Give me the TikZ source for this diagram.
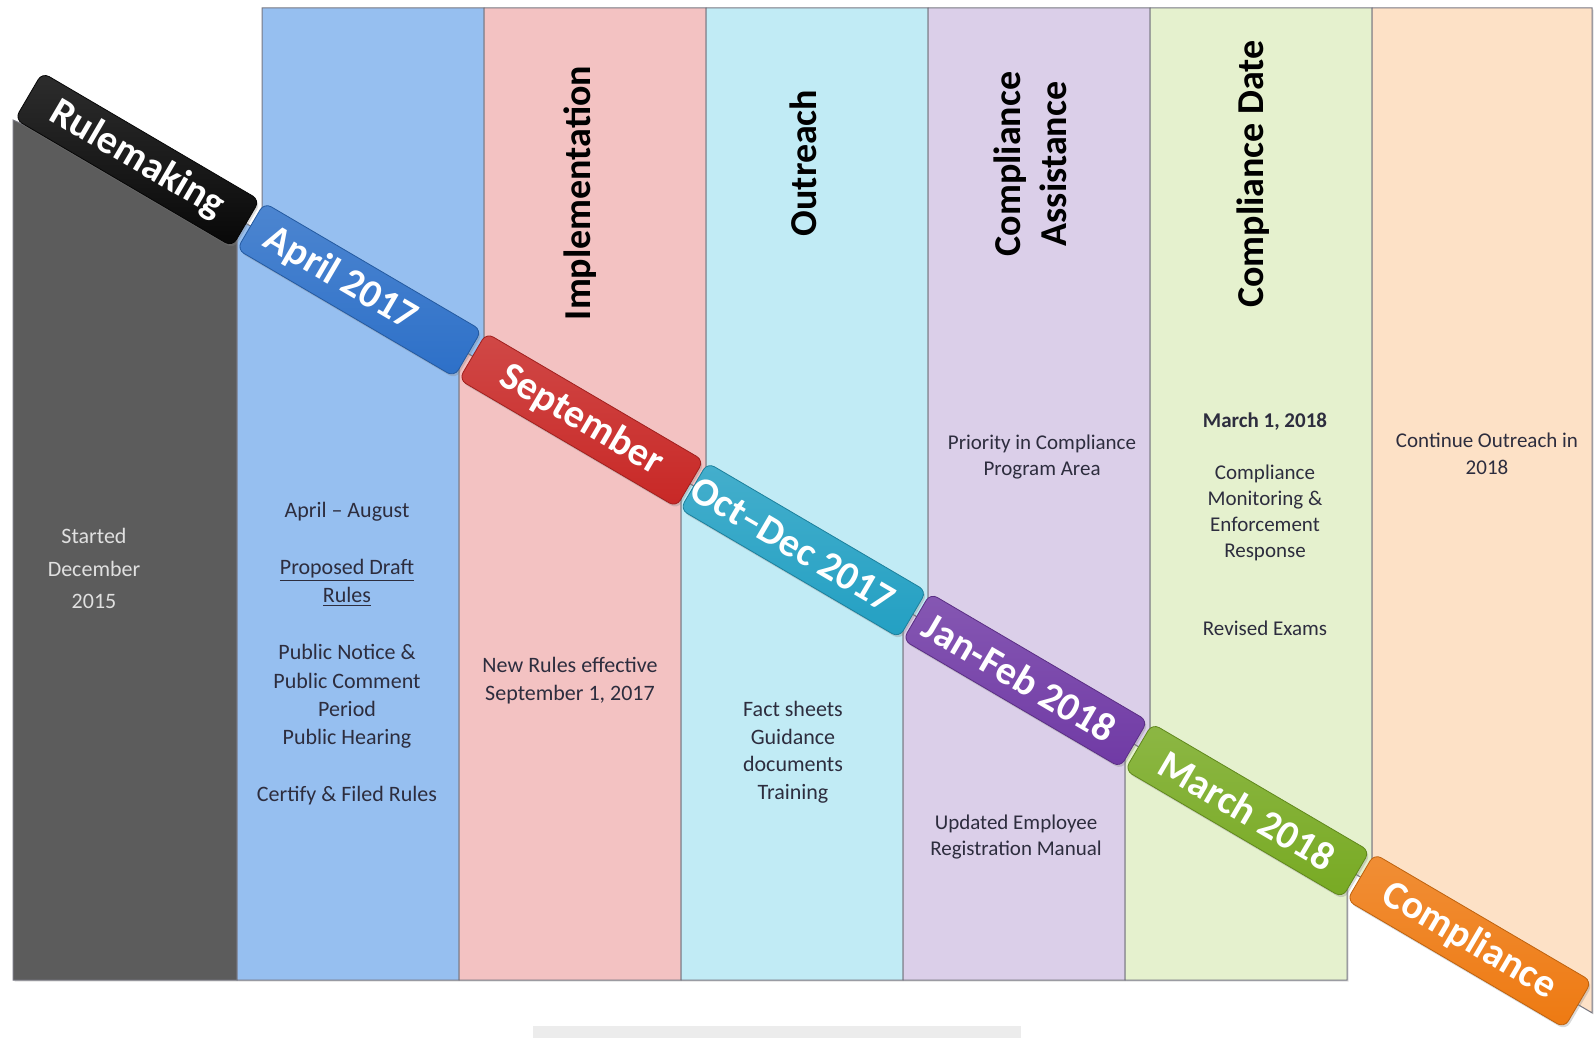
\documentclass[tikz,border=0pt]{standalone}
\usepackage{fontspec}
\setmainfont{Carlito}
\setsansfont{Carlito}
\usetikzlibrary{shadows}
% column fills
\definecolor{tlGrayCol}{RGB}{92,92,92}
\definecolor{tlBlueCol}{RGB}{150,191,240}
\definecolor{tlPinkCol}{RGB}{243,194,194}
\definecolor{tlCyanCol}{RGB}{193,235,245}
\definecolor{tlLavCol}{RGB}{219,207,233}
\definecolor{tlGreenCol}{RGB}{229,241,206}
\definecolor{tlOrangeCol}{RGB}{253,225,198}
% ribbon fills
\definecolor{tlRibBlack}{RGB}{8,8,8}
\definecolor{tlRibBlue}{RGB}{45,112,200}
\definecolor{tlRibRed}{RGB}{200,40,38}
\definecolor{tlRibCyan}{RGB}{35,160,195}
\definecolor{tlRibPurple}{RGB}{112,58,165}
\definecolor{tlRibGreen}{RGB}{120,170,35}
\definecolor{tlRibOrange}{RGB}{238,122,18}
\definecolor{tlInk}{RGB}{45,45,62}
\definecolor{tlEdge}{RGB}{120,120,130}
\definecolor{tlStrip}{RGB}{236,236,236}
\tikzset{
    base/.style={font=\sffamily, align=center},
    panel/.style={draw=tlEdge, line width=0.5pt,
                  drop shadow={opacity=0.25, shadow xshift=0.8pt, shadow yshift=-0.8pt}},
    phase/.style={base, rectangle, rounded corners=4pt, rotate=-30.4,
                  minimum width=126pt, minimum height=27pt, inner sep=0pt,
                  top color=#1!85!white, bottom color=#1, draw=#1!80!black, line width=0.4pt,
                  text=white, font=\sffamily\bfseries\fontsize{20}{24}\selectfont,
                  drop shadow={opacity=0.3, shadow xshift=0.8pt, shadow yshift=-1.2pt}},
    colhead/.style={base, rotate=90, inner sep=0pt, text=black,
                    font=\sffamily\bfseries\fontsize{19}{23}\selectfont},
    note/.style={base, anchor=north, inner sep=0pt, text=tlInk,
                 font=\sffamily\fontsize{11}{14}\selectfont}
}

\begin{document}
\begin{tikzpicture}[x=0.5pt, y=-0.5pt]
  \useasboundingbox (0,0) rectangle (1595,1038);

  % Upper halves of the columns (above the ribbon)
  \filldraw[panel, fill=tlBlueCol]   (262,8) -- (484,8) -- (484,363.0) -- (262,232.8) -- cycle;
  \filldraw[panel, fill=tlPinkCol]   (484,8) -- (706,8) -- (706,493.2) -- (484,363.0) -- cycle;
  \filldraw[panel, fill=tlCyanCol]   (706,8) -- (928,8) -- (928,623.4) -- (706,493.2) -- cycle;
  \filldraw[panel, fill=tlLavCol]    (928,8) -- (1150,8) -- (1150,753.6) -- (928,623.4) -- cycle;
  \filldraw[panel, fill=tlGreenCol]  (1150,8) -- (1372,8) -- (1372,883.8) -- (1150,753.6) -- cycle;
  \filldraw[panel, fill=tlOrangeCol] (1372,8) -- (1592,8) -- (1592,1012.8) -- (1372,883.8) -- cycle;

  % Lower halves (below the ribbon)
  \filldraw[panel, fill=tlGrayCol]   (13,120) -- (237,218.1) -- (237,980) -- (13,980) -- cycle;
  \filldraw[panel, fill=tlBlueCol]   (237,218.1) -- (459,348.3) -- (459,980) -- (237,980) -- cycle;
  \filldraw[panel, fill=tlPinkCol]   (459,348.3) -- (681,478.5) -- (681,980) -- (459,980) -- cycle;
  \filldraw[panel, fill=tlCyanCol]   (681,478.5) -- (903,608.7) -- (903,980) -- (681,980) -- cycle;
  \filldraw[panel, fill=tlLavCol]    (903,608.7) -- (1125,738.9) -- (1125,980) -- (903,980) -- cycle;
  \filldraw[panel, fill=tlGreenCol]  (1125,738.9) -- (1347,869.1) -- (1347,980) -- (1125,980) -- cycle;

  % Timeline ribbon
  \node[phase=tlRibBlack]  (rulemaking) at (137.3,159.6)  {Rulemaking};
  \node[phase=tlRibBlue]   (april)      at (359.3,289.8)  {April 2017\hspace*{22pt}};
  \node[phase=tlRibRed]    (september)  at (581.3,420.0)  {September};
  \node[phase=tlRibCyan]   (octdec)     at (803.3,550.2)  {Oct–Dec 2017\hspace*{12pt}};
  \node[phase=tlRibPurple] (janfeb)     at (1025.3,680.4) {Jan-Feb 2018\hspace*{6pt}};
  \node[phase=tlRibGreen]  (march)      at (1247.3,810.6) {March 2018};
  \node[phase=tlRibOrange] (compliance) at (1469.3,940.8) {Compliance};

  % Column headings
  \node[colhead] (implementation) at (580,193) {Implementation};
  \node[colhead] (outreach)       at (803,163) {Outreach};
  \node[colhead] (assistance)     at (1030,164) {Compliance\\Assistance};
  \node[colhead] (compdate)       at (1253,174) {Compliance Date};

  % Notes in the columns
  \node[note, text=white!88!black, font=\sffamily\fontsize{11}{16.3}\selectfont]
    (started) at (94,528) {Started\\December\\2015};
  \node[note, font=\sffamily\fontsize{11}{14.2}\selectfont] (aprilnotes) at (347,502)
    {April – August\\[14.2pt]\underline{Proposed Draft}\\\underline{Rules}\\[14.2pt]Public Notice \&\\Public Comment\\Period\\Public Hearing\\[14.2pt]Certify \& Filed Rules};
  \node[note] (newrules) at (570,657) {New Rules effective\\September 1, 2017};
  \node[note, font=\sffamily\fontsize{11}{13.8}\selectfont] (factsheets) at (793,701)
    {Fact sheets\\Guidance\\documents\\Training};
  \node[note, font=\sffamily\fontsize{10.5}{13}\selectfont] (priority) at (1042,435)
    {Priority in Compliance\\Program Area};
  \node[note, font=\sffamily\fontsize{10.5}{13}\selectfont] (manual) at (1016,815)
    {Updated Employee\\Registration Manual};
  \node[note, font=\sffamily\fontsize{10.5}{13}\selectfont] (datenotes) at (1265,412)
    {\textbf{March 1, 2018}\\[13pt]Compliance\\Monitoring \&\\Enforcement\\Response\\[26pt]Revised Exams};
  \node[note, font=\sffamily\fontsize{10.5}{13.5}\selectfont] (continue) at (1487,433)
    {Continue Outreach in\\2018};

  % Grey strip along the bottom
  \fill[tlStrip] (533,1026) rectangle (1021,1038);
\end{tikzpicture}
\end{document}
